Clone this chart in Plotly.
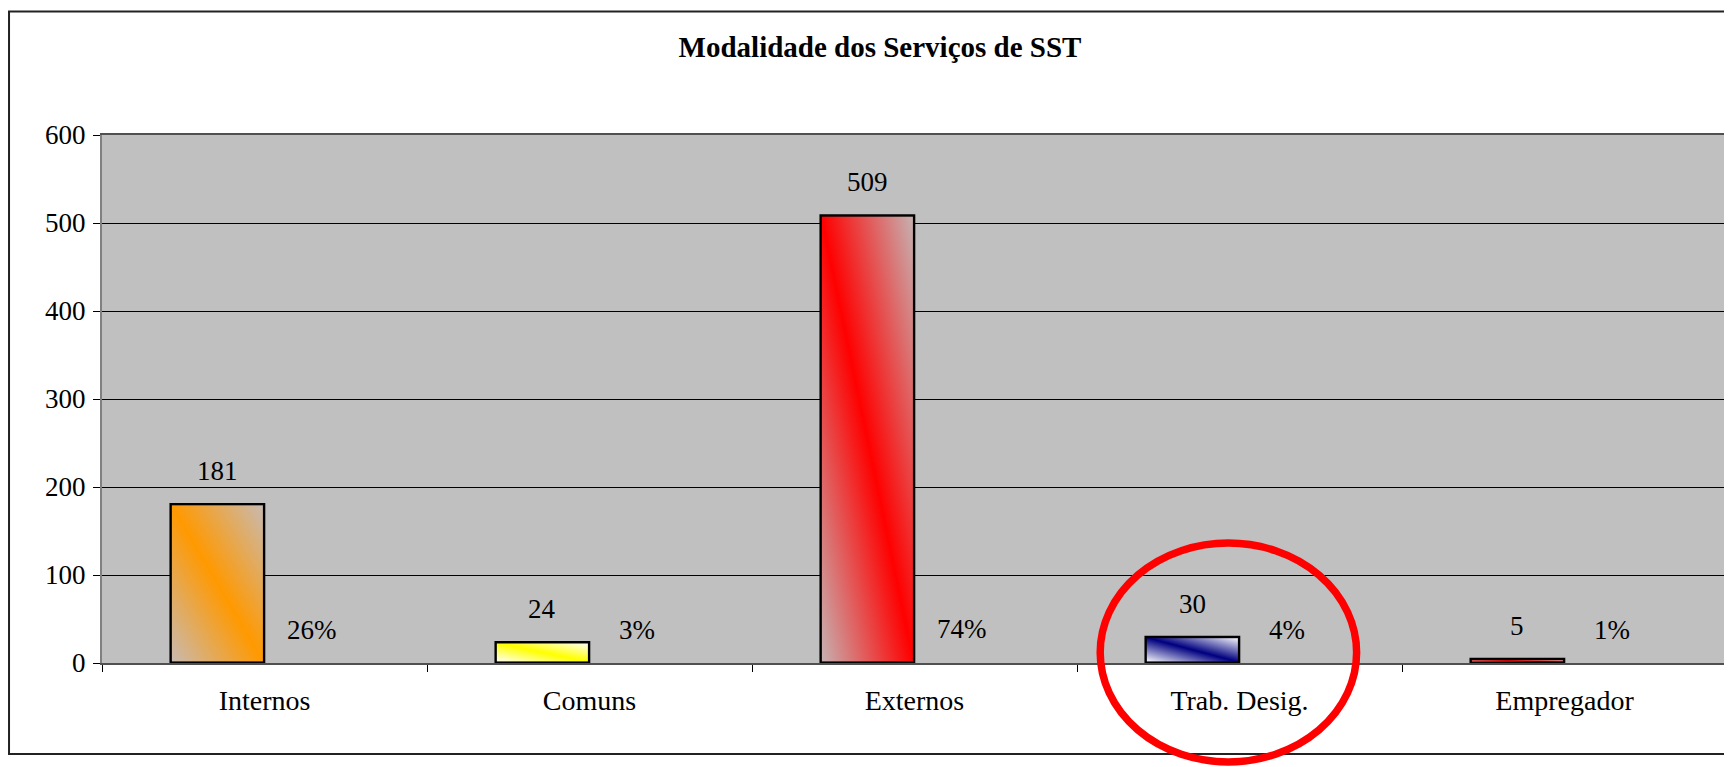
import base64
import plotly.graph_objects as go

# Chart data
CATEGORIES = ["Internos", "Comuns", "Externos", "Trab. Desig.", "Empregador"]
COUNTS = [181, 24, 509, 30, 5]
PERCENTS = [0.26, 0.03, 0.74, 0.04, 0.01]
Y_TICKS = [0, 100, 200, 300, 400, 500, 600]

# Excel-like diagonal gradient colours (centre band, corners)
BAR_CENTER = ["#FF9900", "#FFFF00", "#FF0000", "#000080", "#FF0000"]
BAR_CORNER = ["#C8BAB2", "#FFFFFF", "#C6B2B2", "#FFFFFF", "#FFFFFF"]

# --------------------------------------------------
# Layout constants (pixels)
# the page body has an 8px margin, so the figure is drawn 8px in
# --------------------------------------------------
PAGE_OFF = 8
W, H = 1732 - PAGE_OFF, 767 - PAGE_OFF
M_L, M_R, M_T, M_B = 94, 4.5, 126.5, 104
PW = W - M_L - M_R
PH = H - M_T - M_B
Y_MAX = 600
BARGAP = 0.42
BAR_W = (1 - BARGAP) / 2  # width of one bar in category units
FONT = "Liberation Serif, Times New Roman, serif"


def px_to_paper(px, py):
    # px, py are page pixels
    px -= PAGE_OFF
    py -= PAGE_OFF
    return (px - M_L) / PW, (H - M_B - py) / PH


def gradient_svg(value, c_center, c_corner):
    w = PW / len(CATEGORIES) * BAR_W
    h = max(value / Y_MAX * PH, 2.5)
    sw = 1.6
    svg = (
        f'<svg xmlns="http://www.w3.org/2000/svg" width="{w:.2f}" height="{h:.2f}" '
        f'viewBox="0 0 {w:.2f} {h:.2f}" preserveAspectRatio="none">'
        '<defs><linearGradient id="g" x1="0" y1="1" x2="1" y2="0">'
        f'<stop offset="0" stop-color="{c_corner}"/>'
        f'<stop offset="0.5" stop-color="{c_center}"/>'
        f'<stop offset="1" stop-color="{c_corner}"/>'
        "</linearGradient></defs>"
        f'<rect x="{sw / 2}" y="{sw / 2}" width="{w - sw:.2f}" height="{h - sw:.2f}" '
        f'fill="url(#g)" stroke="#000" stroke-width="{sw}"/></svg>'
    )
    return "data:image/svg+xml;base64," + base64.b64encode(svg.encode()).decode()


fig = go.Figure()

# counts series
fig.add_trace(
    go.Bar(
        x=CATEGORIES,
        y=COUNTS,
        marker=dict(color=BAR_CENTER, line=dict(color="#000", width=1.6)),
        name="Nº",
        showlegend=False,
    )
)

# percentage series (near-zero height, only its labels show)
fig.add_trace(
    go.Bar(
        x=CATEGORIES,
        y=PERCENTS,
        marker=dict(color="rgba(0,0,0,0)", line=dict(width=0)),
        name="%",
        showlegend=False,
    )
)

# gradient fills laid over the count bars
images = []
for i, v in enumerate(COUNTS):
    images.append(
        dict(
            source=gradient_svg(v, BAR_CENTER[i], BAR_CORNER[i]),
            xref="x",
            yref="y",
            x=i - BAR_W,
            y=v,
            sizex=BAR_W,
            sizey=v,
            xanchor="left",
            yanchor="top",
            sizing="stretch",
            layer="above",
        )
    )

# data labels
annotations = []
for i, v in enumerate(COUNTS):
    annotations.append(
        dict(
            x=i - BAR_W / 2, y=v, xref="x", yref="y", text=str(v),
            showarrow=False, yshift=33, yanchor="middle",
            font=dict(family=FONT, size=27, color="#000"),
        )
    )
for i, p in enumerate(PERCENTS):
    annotations.append(
        dict(
            x=i + BAR_W / 2, y=p, xref="x", yref="y", text=f"{round(p * 100)}%",
            showarrow=False, yshift=33, yanchor="middle",
            font=dict(family=FONT, size=27, color="#000"),
        )
    )

# outer chart frame and the red highlight ring (page pixels)
fx0, fy0 = px_to_paper(9, 754)
fx1, fy1 = px_to_paper(1760, 11)
cx0, cy0 = px_to_paper(1100.5, 762)
cx1, cy1 = px_to_paper(1357, 543)
shapes = [
    dict(type="rect", xref="paper", yref="paper", x0=fx0, y0=fy0, x1=fx1, y1=fy1,
         line=dict(color="#222", width=2), fillcolor="rgba(0,0,0,0)", layer="below"),
    dict(type="circle", xref="paper", yref="paper", x0=cx0, y0=cy0, x1=cx1, y1=cy1,
         line=dict(color="#FF0000", width=7.5)),
]

fig.update_layout(
    width=W,
    height=H,
    margin=dict(l=M_L, r=M_R, t=M_T, b=M_B, autoexpand=False),
    paper_bgcolor="#FFFFFF",
    plot_bgcolor="#C0C0C0",
    barmode="group",
    bargap=BARGAP,
    bargroupgap=0,
    font=dict(family=FONT, size=27, color="#000"),
    title=dict(
        text="<b>Modalidade dos Serviços de SST</b>",
        font=dict(family=FONT, size=29, color="#000"),
        x=(880 - PAGE_OFF) / W,
        xref="container",
        xanchor="center",
        y=1 - (47 - PAGE_OFF) / H,
        yref="container",
        yanchor="middle",
    ),
    xaxis=dict(
        type="category",
        showgrid=False,
        showline=True,
        linecolor="#505050",
        linewidth=2,
        mirror=True,
        ticks="outside",
        tickson="boundaries",
        ticklen=7,
        tickcolor="#000",
        tickfont=dict(family=FONT, size=28, color="#000"),
        ticklabelstandoff=11,
    ),
    yaxis=dict(
        range=[0, Y_MAX],
        tickvals=Y_TICKS,
        showgrid=True,
        gridcolor="#000",
        gridwidth=1,
        zeroline=False,
        showline=True,
        linecolor="#808080",
        linewidth=2,
        mirror=True,
        ticks="outside",
        ticklen=7,
        tickcolor="#000",
        tickfont=dict(family=FONT, size=27, color="#000"),
        ticklabelstandoff=2,
    ),
    images=images,
    annotations=annotations,
    shapes=shapes,
)

fig.write_html("out.html", config={"displayModeBar": False})
